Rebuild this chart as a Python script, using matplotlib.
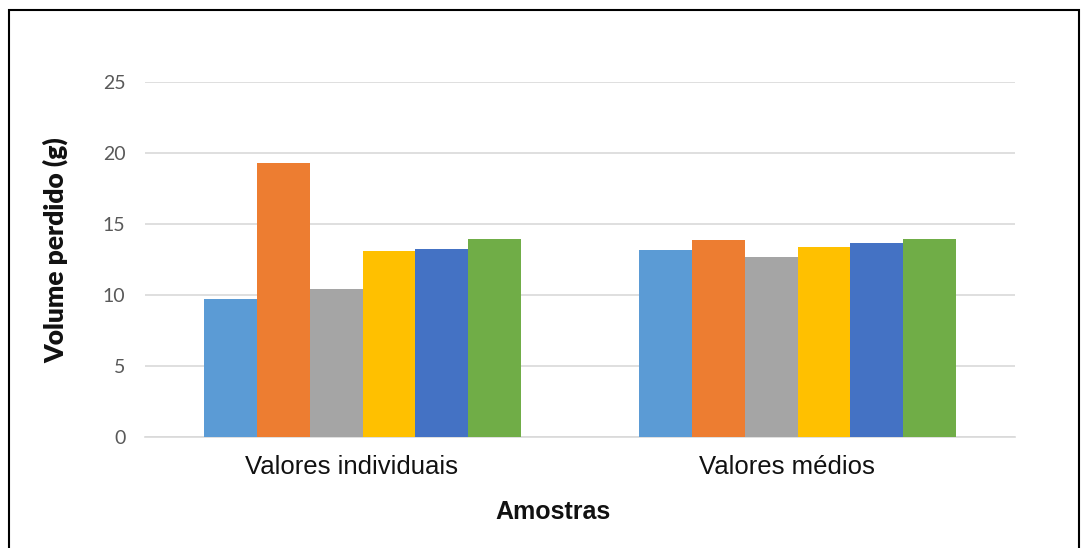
import numpy as np
import matplotlib.pyplot as plt
from matplotlib.patches import Rectangle
from matplotlib.transforms import ScaledTranslation

categories = ['Valores individuais', 'Valores médios']
s1 = [9.7, 13.2]
s2 = [19.3, 13.9]
s3 = [10.4, 12.65]
s4 = [13.1, 13.35]
s5 = [13.25, 13.65]
s6 = [13.95, 13.95]
series = [s1, s2, s3, s4, s5, s6]
colors = ['#5B9BD5', '#ED7D31', '#A5A5A5', '#FFC000', '#4472C4', '#70AD47']
yticks = [0, 5, 10, 15, 20, 25]

fig = plt.figure(figsize=(10.87, 5.48), dpi=100)
ax = fig.add_axes([145 / 1087, 1 - 437 / 548, 870 / 1087, 355 / 548])

x = np.arange(len(categories))
group_w = 0.73
bw = group_w / len(series)
for i, vals in enumerate(series):
    ax.bar(x - group_w / 2 + bw * (i + 0.5), vals, bw, color=colors[i], zorder=3)

ax.set_xlim(-0.5, 1.5)
ax.set_ylim(0, 25)
ax.set_yticks(yticks)
ax.set_xticks(x)
ax.set_xticklabels(categories, fontsize=18.5, color='#111111',
                   fontfamily='Liberation Sans')
ax.tick_params(axis='x', length=0, pad=13)
ax.tick_params(axis='y', length=0, pad=14, labelsize=14, labelcolor='#595959')
for lab in ax.get_yticklabels():
    lab.set_fontfamily('Lato')
# labels sit a bit left of the group centres in the original
shift = ScaledTranslation(-11 / 100, 0, fig.dpi_scale_trans)
for lab in ax.get_xticklabels():
    lab.set_transform(lab.get_transform() + shift)
ax.grid(axis='y', color='#D9D9D9', linewidth=1.2, zorder=0)
for sp in ['top', 'right', 'left']:
    ax.spines[sp].set_visible(False)
ax.spines['bottom'].set_color('#D9D9D9')
ax.spines['bottom'].set_linewidth(1.2)

ax.set_ylabel('Volume perdido (g)', fontsize=19, fontweight='heavy',
              fontfamily='Lato', color='#111111')
ax.yaxis.set_label_coords((68 - 145) / 870, (437 - 250) / 355)
fig.text(553 / 1087, 1 - 512 / 548, 'Amostras', ha='center', va='center',
         fontsize=18, fontweight='bold', color='#111111',
         fontfamily='Liberation Sans')

fig.patches.append(Rectangle((9 / 1087, -0.1), 1070 / 1087, 1 - 10 / 548 + 0.1,
                             transform=fig.transFigure, fill=False,
                             edgecolor='black', linewidth=1.5))

fig.savefig('out.png', dpi=100)
